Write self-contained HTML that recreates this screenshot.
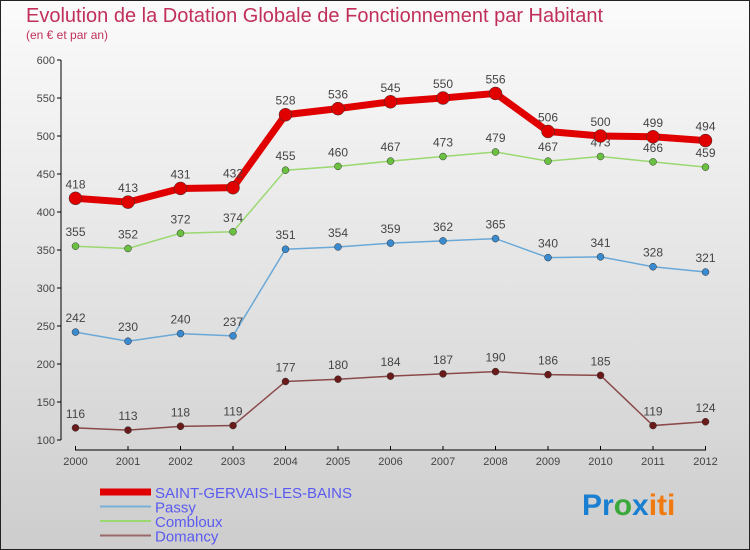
<!DOCTYPE html>
<html><head><meta charset="utf-8"><style>
body{margin:0;width:750px;height:550px;overflow:hidden;font-family:"Liberation Sans",sans-serif}
svg{display:block}
</style></head><body>
<svg id="chart" width="750" height="550" xmlns="http://www.w3.org/2000/svg">
<defs><linearGradient id="bg" x1="0" y1="0" x2="0" y2="1"><stop offset="0" stop-color="#fbfbfb"/><stop offset="1" stop-color="#cdcdcd"/></linearGradient></defs>
<rect x="0.5" y="0.5" width="749" height="549" fill="url(#bg)" stroke="#222"/>
<text x="26" y="22" font-size="20" fill="#c0305a">Evolution de la Dotation Globale de Fonctionnement par Habitant</text>
<text x="26" y="39" font-size="12" fill="#c0305a">(en € et par an)</text>
<g id="axes"></g>
<g id="series"></g>
<g id="legend"></g>
<text x="582" y="515" font-size="30" font-weight="bold" fill="#1a7fd0">Pr<tspan fill="#3aa83a">o</tspan><tspan fill="#1a7fd0">x</tspan><tspan fill="#f07a10">iti</tspan></text>
</svg>
<script>
const years=[2000,2001,2002,2003,2004,2005,2006,2007,2008,2009,2010,2011,2012];
const yTicks=[100,150,200,250,300,350,400,450,500,550,600];
const stGervais=[418,413,431,432,528,536,545,550,556,506,500,499,494];
const passy=[242,230,240,237,351,354,359,362,365,340,341,328,321];
const combloux=[355,352,372,374,455,460,467,473,479,467,473,466,459];
const domancy=[116,113,118,119,177,180,184,187,190,186,185,119,124];
const NS="http://www.w3.org/2000/svg";
const xS=i=>75.5+i*52.5;
const yS=v=>440-(v-100)*0.76;
function mk(t,a,p){const e=document.createElementNS(NS,t);for(const k in a)e.setAttribute(k,a[k]);p.appendChild(e);return e;}
const ax=document.getElementById('axes');
const yl=mk('line',{x1:61,y1:yS(600),x2:61,y2:yS(100),stroke:'#000'},ax);


yTicks.forEach(v=>{
 mk('line',{x1:57,x2:61,y1:yS(v),y2:yS(v),stroke:'#000'},ax);
 const t=mk('text',{x:55,y:yS(v)+4,'font-size':11,fill:'#444','text-anchor':'end'},ax);
 t.textContent=v;
 
 
});
const xl=mk('line',{x1:75,y1:450,x2:706,y2:450,stroke:'#000'},ax);


years.forEach((y,i)=>{
 mk('line',{x1:xS(i),x2:xS(i),y1:446,y2:450,stroke:'#000'},ax);
 const t=mk('text',{x:xS(i),y:465,'font-size':11,fill:'#444','text-anchor':'middle'},ax);
 t.textContent=y;
 
 
});
const sg=document.getElementById('series');
const defs=[
 {d:domancy,c:'#6b1a1a',line:'#8b4a4a',w:1.5,r:3.5,n:'domancy'},
 {d:passy,c:'#3a8ad0',line:'#6aa8d8',w:1.5,r:3.5,n:'passy'},
 {d:combloux,c:'#6ac040',line:'#9ad870',w:1.5,r:3.5,n:'combloux'},
 {d:stGervais,c:'#e00000',line:'#e00000',w:7,r:6.5,n:'saint-gervais'}];
defs.forEach(s=>{
 const g=mk('g',{},sg);
 
 
 const pl=mk('polyline',{points:s.d.map((v,i)=>xS(i)+','+yS(v)).join(' '),fill:'none',stroke:s.line,'stroke-width':s.w},g);
 
 
 s.d.forEach((v,i)=>{
  const c=mk('circle',{cx:xS(i),cy:yS(v),r:s.r,fill:s.c,stroke:'#333','stroke-width':0.5},g);
  
  
  const t=mk('text',{x:xS(i),y:yS(v)-10,'font-size':12,fill:'#444','text-anchor':'middle'},g);
  t.textContent=v;
  
  
 });
});
const lg=document.getElementById('legend');
const le=[['SAINT-GERVAIS-LES-BAINS','#e00000',7],['Passy','#7ab0d8',2],['Combloux','#9ad870',2],['Domancy','#9a6a6a',2]];
le.forEach((e,i)=>{
 const y=492+i*14.5;
 const g=mk('g',{},lg);
 
 
 mk('line',{x1:100,x2:151,y1:y,y2:y,stroke:e[1],'stroke-width':e[2]},g);
 const t=mk('text',{x:155,y:y+6,'font-size':15,fill:'#5a5af0'},g);
 t.textContent=e[0];
});
</script>
</body></html>
